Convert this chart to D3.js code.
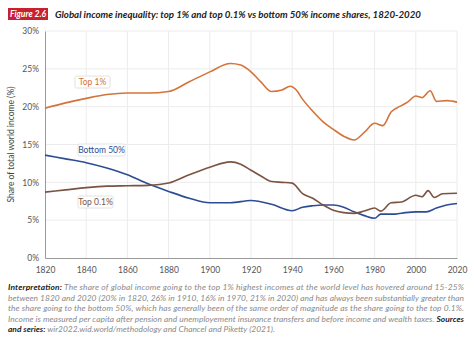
<!DOCTYPE html>
<html>
<head>
<meta charset="utf-8">
<script src="https://cdn.jsdelivr.net/npm/d3@7"></script>
<style>
  body { margin: 0; background: #fff; }
  svg text { font-family: Lato, "Open Sans", sans-serif; }
</style>
</head>
<body>
<svg id="chart"></svg>
<script>
const years = d3.range(1820, 2021, 20);
const yTicks = [0, 5, 10, 15, 20, 25, 30];

// income shares, % of total world income
const top1 = [
  [1820, 19.8], [1830, 20.5], [1840, 21.1], [1850, 21.6], [1860, 21.8], [1870, 21.8],
  [1880, 22.0], [1890, 23.3], [1900, 24.6], [1910, 25.7], [1915, 25.5], [1920, 24.6],
  [1925, 23.2], [1930, 22.0], [1935, 22.2], [1939, 22.7], [1942, 22.2], [1945, 21.0],
  [1950, 19.4], [1955, 18.0], [1960, 17.0], [1965, 16.1], [1970, 15.6], [1975, 16.6],
  [1980, 17.8], [1984, 17.5], [1988, 19.3], [1992, 20.0], [1996, 20.6], [2000, 21.4],
  [2003, 21.2], [2007, 22.1], [2010, 20.7], [2015, 20.8], [2020, 20.6]
];
const top01 = [
  [1820, 8.7], [1830, 9.0], [1840, 9.3], [1850, 9.5], [1860, 9.55], [1870, 9.6],
  [1880, 9.9], [1890, 11.0], [1900, 12.0], [1910, 12.7], [1915, 12.4], [1920, 11.6],
  [1925, 10.8], [1930, 10.1], [1935, 10.0], [1940, 9.9], [1945, 8.5], [1950, 7.9],
  [1955, 7.0], [1960, 6.3], [1965, 6.0], [1970, 5.9], [1975, 6.2], [1980, 6.6],
  [1983, 6.2], [1988, 7.3], [1993, 7.4], [2000, 8.3], [2003, 8.1], [2006, 8.9],
  [2009, 8.0], [2013, 8.5], [2020, 8.55]
];
const bottom50 = [
  [1820, 13.6], [1830, 13.1], [1840, 12.6], [1850, 11.9], [1860, 11.0], [1870, 9.8],
  [1880, 8.8], [1890, 7.9], [1900, 7.3], [1910, 7.3], [1920, 7.6], [1930, 7.1],
  [1940, 6.25], [1945, 6.7], [1950, 6.9], [1955, 7.0], [1960, 7.0], [1965, 6.7],
  [1970, 6.1], [1975, 5.6], [1980, 5.25], [1983, 5.8], [1990, 5.8], [1995, 6.0],
  [2000, 6.1], [2005, 6.1], [2010, 6.6], [2015, 7.0], [2020, 7.2]
];

const series = [
  { name: 'Top 1%', data: top1, color: '#d4733a', label: [75, 76, 35] },
  { name: 'Bottom 50%', data: bottom50, color: '#2c4c94', label: [78, 144, 47] },
  { name: 'Top 0.1%', data: top01, color: '#7a5343', label: [78, 196, 35] }
];

// footnote, one entry per line: [bold, regular] pieces in order
const noteLines = [
  [['b', 'Interpretation:'], ['i', ' The share of global income going to the top 1% highest incomes at the world level has hovered around 15-25%']],
  [['i', 'between 1820 and 2020 (20% in 1820, 26% in 1910, 16% in 1970, 21% in 2020) and has always been substantially greater than']],
  [['i', 'the share going to the bottom 50%, which has generally been of the same order of magnitude as the share going to the top 0.1%.']],
  [['i', 'Income is measured per capita after pension and unemployement insurance transfers and before income and wealth taxes. '], ['b', 'Sources']],
  [['b', 'and series:'], ['i', ' wir2022.wid.world/methodology and Chancel and Piketty (2021).']]
];

const W = 474, H = 341;
const margin = { top: 31, left: 45, right: 17, bottom: 83 };
const width = W - margin.left - margin.right;
const height = H - margin.top - margin.bottom;

const svg = d3.select('#chart').attr('width', W).attr('height', H);

// figure tag + title
svg.append('rect').attr('x', 8).attr('y', 8).attr('width', 40).attr('height', 12).attr('fill', '#c8202f');
svg.append('text').attr('x', 28).attr('y', 17.3).attr('text-anchor', 'middle')
  .attr('fill', '#fff').attr('font-size', 8.6).attr('font-weight', 700).attr('font-style', 'italic')
  .text('Figure 2.6');
svg.append('text').attr('x', 55).attr('y', 17.5)
  .attr('fill', '#222').attr('font-size', 9.7).attr('font-weight', 700).attr('font-style', 'italic')
  .text('Global income inequality: top 1% and top 0.1% vs bottom 50% income shares, 1820-2020');

const chart = svg.append('g').attr('transform', `translate(${margin.left},${margin.top})`);

const x = d3.scaleLinear().domain([1820, 2020]).range([0, width]);
const y = d3.scaleLinear().domain([0, 30]).range([height, 0]);

// grid
chart.append('g').selectAll('line').data(years.slice(1)).join('line')
  .attr('x1', d => x(d)).attr('x2', d => x(d)).attr('y1', 0).attr('y2', height)
  .attr('stroke', '#ececec').attr('stroke-width', 1);
chart.append('g').selectAll('line').data(yTicks.slice(1)).join('line')
  .attr('x1', 0).attr('x2', width).attr('y1', d => y(d)).attr('y2', d => y(d))
  .attr('stroke', '#ececec').attr('stroke-width', 1);

// axes
const xAxis = chart.append('g').attr('transform', `translate(0,${height})`)
  .call(d3.axisBottom(x).tickValues(years).tickFormat(d3.format('d')).tickSize(0).tickPadding(9));
xAxis.select('.domain').attr('stroke', '#999');
xAxis.selectAll('text').attr('fill', '#555').attr('font-size', 8.5);

const yAxis = chart.append('g')
  .call(d3.axisLeft(y).tickValues(yTicks).tickFormat(d => d + '%').tickSize(0).tickPadding(6));
yAxis.select('.domain').attr('stroke', '#999');
yAxis.selectAll('text').attr('fill', '#555').attr('font-size', 8.5);

svg.append('text')
  .attr('transform', `translate(14,${margin.top + height / 2}) rotate(-90)`)
  .attr('text-anchor', 'middle').attr('fill', '#444').attr('font-size', 8.5)
  .text('Share of total world income (%)');

// lines
const line = d3.line().x(d => x(d[0])).y(d => y(d[1])).curve(d3.curveMonotoneX);
chart.selectAll('.series').data(series).join('path')
  .attr('class', 'series')
  .attr('d', d => line(d.data))
  .attr('fill', 'none')
  .attr('stroke', d => d.color)
  .attr('stroke-width', 1.6);

// series labels
const lab = svg.selectAll('.lab').data(series).join('g').attr('class', 'lab')
  .attr('transform', d => `translate(${d.label[0]},${d.label[1]})`);
lab.append('rect')
  .attr('width', d => d.label[2]).attr('height', 12).attr('rx', 1.5)
  .attr('fill', '#fff').attr('stroke', '#e2e2e2');
lab.append('text')
  .attr('x', d => d.label[2] / 2).attr('y', 9).attr('text-anchor', 'middle')
  .attr('font-size', 8.5).attr('fill', d => d.color)
  .text(d => d.name);

// footnote, justified to the full width except the last line
const note = svg.append('g').attr('font-size', 8.4).attr('font-style', 'italic');
noteLines.forEach((parts, i) => {
  const t = note.append('text').attr('x', 8).attr('y', 290 + i * 10.5);
  if (i < noteLines.length - 1) t.attr('textLength', 456).attr('lengthAdjust', 'spacing');
  parts.forEach(([k, s]) => {
    t.append('tspan')
      .attr('fill', k === 'b' ? '#222' : '#8a8a8a')
      .attr('font-weight', k === 'b' ? 700 : 400)
      .text(s);
  });
});
</script>
</body>
</html>
